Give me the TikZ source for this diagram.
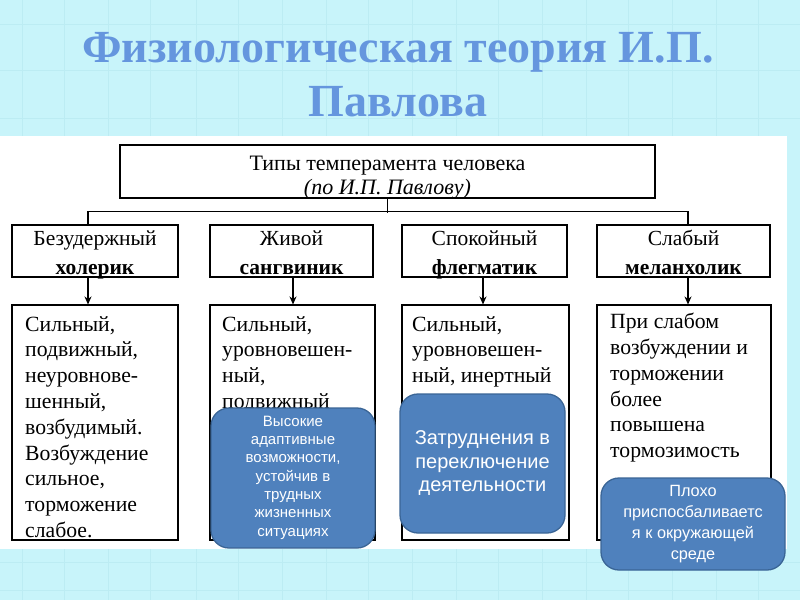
\documentclass[tikz,border=0pt]{standalone}
\usepackage{fontspec}
\setmainfont{Liberation Serif}
\newfontfamily\sansf{Liberation Sans}
\usetikzlibrary{arrows.meta}
\definecolor{bg}{HTML}{C8F4FA}
\definecolor{gridc}{HTML}{BCECF3}
\definecolor{titlec}{HTML}{6596DE}
\definecolor{bluef}{HTML}{4F81BD}
\definecolor{blued}{HTML}{3A6596}
\newcommand{\twoline}[2]{#1\vphantom{Йру}\\\textbf{#2}\vphantom{Йру}}
\tikzset{
  frame/.style={draw=black, line width=1.1pt, inner sep=0pt},
  typebox/.style={frame, minimum height=52pt},
  typetext/.style={inner sep=0pt, align=center, font=\fontsize{21.5}{29}\selectfont},
  descbox/.style={frame, minimum height=235pt},
  desctext/.style={anchor=north west, inner sep=0pt, align=left, font=\fontsize{21.7}{25.8}\selectfont},
  bluebox/.style={fill=bluef, draw=blued, line width=1.3pt, rounded corners=18pt, text=white, align=center, inner sep=0pt},
  conn/.style={draw=black, line width=1.1pt},
  arr/.style={conn, -{Stealth[length=8pt,width=7pt]}}
}
\begin{document}
\begin{tikzpicture}[x=1pt,y=-1pt]
\useasboundingbox (0,0) rectangle (800,600);
\fill[bg] (0,0) rectangle (800,600);
\foreach \gx in {22,64,108,150,196,238,282,326,368,412,456,498,542,586,628,672,716,758}
  \draw[gridc, line width=1pt] (\gx,0) -- (\gx,600);
\foreach \gy in {24,70,118,562,590}
  \draw[gridc, line width=1pt] (0,\gy) -- (800,\gy);
\fill[white] (0,136) rectangle (787,549);

\node[text=titlec, font=\fontsize{46}{54}\selectfont\bfseries, align=center] (title) at (398,75)
  {Физиологическая теория И.П.\\Павлова};

\node[frame, minimum width=535pt, minimum height=53pt] (top) at (387.5,171.5) {};
\node[align=center, inner sep=0pt, font=\fontsize{22}{24.5}\selectfont] (toptext) at ([yshift=-6pt]top.center)
  {Типы темперамента человека\\\textit{(по И.П. Павлову)}};

\node[typebox, minimum width=166pt] (t1) at (95,251) {};
\node[typebox, minimum width=163pt] (t2) at (291.5,251) {};
\node[typebox, minimum width=165pt] (t3) at (484.5,251) {};
\node[typebox, minimum width=173pt] (t4) at (683.5,251) {};
\node[typetext] (tt1) at ([yshift=-2pt]t1.center) {\twoline{Безудержный}{холерик}};
\node[typetext] (tt2) at ([yshift=-2pt]t2.center) {\twoline{Живой}{сангвиник}};
\node[typetext] (tt3) at ([yshift=-2pt]t3.center) {\twoline{Спокойный}{флегматик}};
\node[typetext] (tt4) at ([yshift=-2pt]t4.center) {\twoline{Слабый}{меланхолик}};

\node[descbox, minimum width=166pt] (d1) at (95,422.5) {};
\node[descbox, minimum width=165pt] (d2) at (292.5,422.5) {};
\node[descbox, minimum width=167pt] (d3) at (485.5,422.5) {};
\node[descbox, minimum width=174pt] (d4) at (684,422.5) {};

\node[desctext] (x1) at (25,316) {Сильный,\\подвижный,\\неуровнове-\\шенный,\\возбудимый.\\Возбуждение\\сильное,\\торможение\\слабое.};
\node[desctext] (x2) at (222,316) {Сильный,\\уровновешен-\\ный,\\подвижный};
\node[desctext] (x3) at (412,316) {Сильный,\\уровновешен-\\ный, инертный};
\node[desctext] (x4) at (610,313) {При слабом\\возбуждении и\\торможении\\более\\повышена\\тормозимость};

\draw[conn] (top.south) -- ++(0,14);
\draw[conn] ([xshift=-7pt]t1.north) -- ++(0,-13) -| ([xshift=4.5pt]t4.north);

\draw[arr] ([xshift=-7pt]t1.south) -- ([xshift=-7pt]d1.north);
\draw[arr] ([xshift=1.5pt]t2.south) -- ([xshift=0.5pt]d2.north);
\draw[arr] ([xshift=-1.5pt]t3.south) -- ([xshift=-2.5pt]d3.north);
\draw[arr] ([xshift=4.5pt]t4.south) -- ([xshift=4pt]d4.north);

\node[bluebox, minimum width=164pt, minimum height=140pt, font=\sansf\fontsize{15}{18.3}\selectfont] (b1) at (293,478)
  {Высокие\\адаптивные\\возможности,\\устойчив в\\трудных\\жизненных\\ситуациях\rule[-4pt]{0pt}{4pt}};
\node[bluebox, minimum width=165pt, minimum height=139pt, font=\sansf\fontsize{20}{23.5}\selectfont] (b2) at (482.5,463.5)
  {Затруднения в\\переключение\\деятельности};
\node[bluebox, minimum width=184pt, minimum height=92pt, font=\sansf\fontsize{16.3}{21}\selectfont] (b3) at (693,524)
  {Плохо\\приспосбаливаетс\\я к окружающей\\среде};
\end{tikzpicture}
\end{document}
